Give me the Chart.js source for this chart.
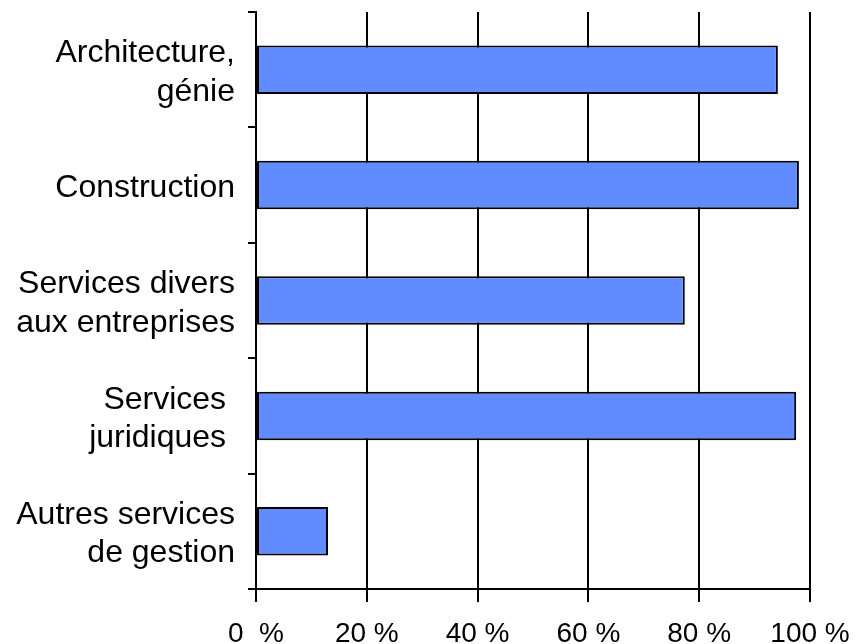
<!DOCTYPE html>
<html>
<head>
<meta charset="utf-8">
<script src="https://cdn.jsdelivr.net/npm/chart.js@4/dist/chart.umd.min.js"></script>
<style>
  html, body { margin: 0; padding: 0; background: #fff; }
  #wrap { width: 859px; height: 644px; }
</style>
</head>
<body>
<div id="wrap"><canvas id="myChart"></canvas></div>
<script>
// Données du graphique
const categories = [
  ["Architecture,", "génie"],
  "Construction",
  ["Services divers", "aux entreprises"],
  ["Services ", "juridiques "],
  ["Autres services", "de gestion"],
];
const values = [94.2, 98.0, 77.4, 97.5, 13.0];
const xTicks = [0, 20, 40, 60, 80, 100];
const xTickLabels = ["0  %", "20 %", "40 %", "60 %", "80 %", "100 %"];

const ctx = document.getElementById("myChart").getContext("2d");

const myChart = new Chart(ctx, {
  type: "bar",
  data: {
    labels: categories,
    datasets: [
      {
        data: values,
        backgroundColor: "#608cff",
        borderColor: "#000000",
        borderWidth: 2,
        borderSkipped: false,
        barPercentage: 0.42,
        categoryPercentage: 1,
      },
    ],
  },
  options: {
    indexAxis: "y",
    responsive: true,
    maintainAspectRatio: false,
    animation: false,
    layout: { padding: { top: 12, right: 49, left: 0, bottom: 0 } },
    plugins: {
      legend: { display: false },
      tooltip: { enabled: false },
    },
    scales: {
      x: {
        min: 0,
        max: 100,
        afterBuildTicks: (axis) => {
          axis.ticks = xTicks.map((v) => ({ value: v }));
        },
        afterFit: (axis) => {
          axis.height = 55;
          axis.paddingLeft = 0;
          axis.paddingRight = 0;
        },
        ticks: {
          color: "#000",
          font: { family: "Liberation Sans", size: 28 },
          padding: 15,
          maxRotation: 0,
          callback: (v) => xTickLabels[xTicks.indexOf(v)],
        },
        grid: {
          color: "#000",
          lineWidth: 2,
          tickLength: 13,
        },
        border: { color: "#000", width: 2 },
      },
      y: {
        afterFit: (axis) => {
          axis.width = 256;
          axis.paddingTop = 0;
          axis.paddingBottom = 0;
        },
        ticks: {
          color: "#000",
          font: { family: "Liberation Sans", size: 32 },
          padding: 13,
          labelOffset: 3,
        },
        grid: {
          drawOnChartArea: false,
          color: "#000",
          lineWidth: 2,
          tickLength: 8,
        },
        border: { color: "#000", width: 2 },
      },
    },
  },
});
</script>
</body>
</html>
